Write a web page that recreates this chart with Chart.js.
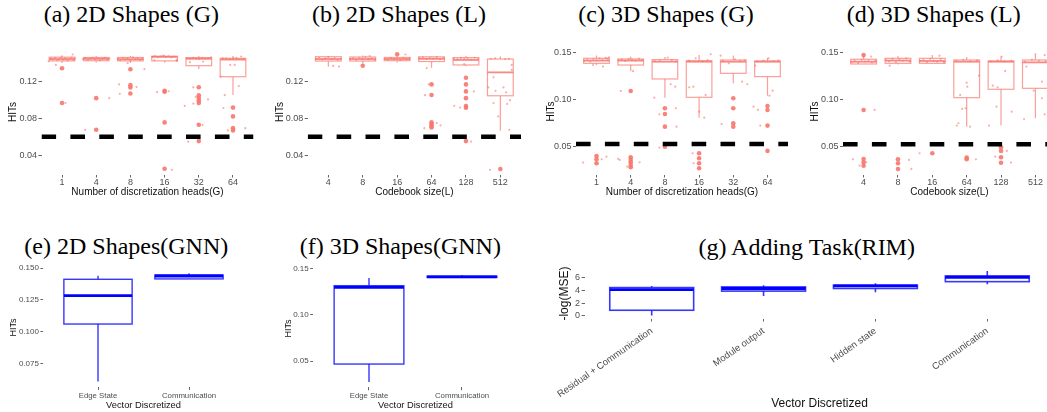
<!DOCTYPE html>
<html>
<head>
<meta charset="utf-8">
<script src="https://cdn.jsdelivr.net/npm/chart.js@4.4.1/dist/chart.umd.min.js"></script>
<style>
html, body { margin: 0; padding: 0; width: 1047px; height: 412px; overflow: hidden; background: #fff; }
canvas { position: absolute; }
.ttl { position: absolute; width: 300px; text-align: center; font: 24px 'Liberation Serif', 'Times New Roman', serif; line-height: 24px; color: #000; white-space: nowrap; }
</style>
</head>
<body>
<div class="ttl" style="left:-18.7px;top:1.6px">(a) 2D Shapes (G)</div>
<div class="ttl" style="left:249px;top:1.6px">(b) 2D Shapes (L)</div>
<div class="ttl" style="left:516px;top:1.6px">(c) 3D Shapes (G)</div>
<div class="ttl" style="left:783.7px;top:1.6px">(d) 3D Shapes (L)</div>
<div class="ttl" style="left:-23.7px;top:233.9px">(e) 2D Shapes(GNN)</div>
<div class="ttl" style="left:250.3px;top:233.9px">(f) 3D Shapes(GNN)</div>
<div class="ttl" style="left:656.7px;top:234.9px">(g) Adding Task(RIM)</div>
<canvas id="pa"></canvas>
<canvas id="pb"></canvas>
<canvas id="pc"></canvas>
<canvas id="pd"></canvas>
<canvas id="pe"></canvas>
<canvas id="pf"></canvas>
<canvas id="pg"></canvas>
<script>
// ---- categories ----
const headsG = ['1', '4', '8', '16', '32', '64'];
const codebookL = ['4', '8', '16', '64', '128', '512'];
const gnnVectors = ['Edge State', 'Communication'];
const rimVectors = ['Residual + Communication', 'Module output', 'Hidden state', 'Communication'];

// ---- y tick values ----
const ticks2D = [0.04, 0.08, 0.12];
const ticks3D = [0.05, 0.10, 0.15];
const ticksE = [0.075, 0.100, 0.125, 0.150];
const ticksF = [0.05, 0.10, 0.15];
const ticksG = [0, 2, 4, 6];

// ---- (a) 2D Shapes (G) ----
const aLo  = [0.1395, 0.1400, 0.1395, 0.1400, 0.1330, 0.1049];
const aQ1  = [0.1418, 0.1420, 0.1418, 0.1418, 0.1366, 0.1247];
const aMed = [0.1438, 0.1440, 0.1436, 0.1462, 0.1441, 0.1432];
const aQ3  = [0.1458, 0.1455, 0.1455, 0.1468, 0.1453, 0.1445];
const aHi  = [0.1478, 0.1470, 0.1470, 0.1480, 0.1470, 0.1470];
const aOut = [[0,0.1338],[0,0.0963],[1,0.1015],[1,0.0673],[2,0.1327],[2,0.1156],[2,0.1131],[2,0.1066],
  [3,0.1095],[3,0.1084],[3,0.0753],[3,0.0252],[4,0.1133],[4,0.1046],[4,0.1017],[4,0.0990],[4,0.0964],
  [4,0.0727],[4,0.0551],[5,0.0913],[5,0.0818],[5,0.0691],[5,0.0666]];
// [category, jitter offset, value]
const aJit = [
  [0,-0.39,0.1413],[0,-0.33,0.1446],[0,-0.27,0.1432],[0,-0.2,0.1452],[0,-0.14,0.1425],[0,-0.08,0.1441],[0,-0.02,0.1456],
  [0,0.04,0.1430],[0,0.1,0.1447],[0,0.16,0.1421],[0,0.22,0.1438],[0,0.28,0.1453],[0,0.34,0.1428],[0,0.38,0.1444],
  [0,0.1,0.0963],[0,-0.18,0.1374],[0,0.31,0.1487],
  [1,-0.38,0.1436],[1,-0.31,0.1448],[1,-0.24,0.1427],[1,-0.17,0.1443],[1,-0.1,0.1452],[1,-0.03,0.1433],[1,0.04,0.1446],
  [1,0.11,0.1424],[1,0.18,0.1440],[1,0.25,0.1450],[1,0.32,0.1431],[1,0.38,0.1444],[1,0.38,0.1015],[1,-0.32,0.0673],
  [2,-0.37,0.1440],[2,-0.3,0.1426],[2,-0.22,0.1451],[2,-0.15,0.1434],[2,-0.08,0.1445],[2,0,0.1422],[2,0.07,0.1457],
  [2,0.14,0.1437],[2,0.21,0.1448],[2,0.28,0.1429],[2,0.35,0.1442],[2,-0.08,0.1393],[2,0.41,0.1328],[2,-0.33,0.1164],
  [2,0.18,0.1135],[2,-0.31,0.1062],
  [3,-0.36,0.1462],[3,-0.28,0.1470],[3,-0.2,0.1458],[3,-0.12,0.1466],[3,-0.04,0.1474],[3,0.04,0.1460],[3,0.12,0.1468],
  [3,0.2,0.1455],[3,0.28,0.1465],[3,0.35,0.1430],[3,-0.3,0.1425],[3,0.36,0.1418],[3,-0.22,0.1080],[3,0.12,0.1090],[3,0.21,0.0241],
  [4,-0.35,0.1448],[4,-0.26,0.1442],[4,-0.17,0.1452],[4,-0.08,0.1445],[4,0.01,0.1439],[4,0.1,0.1450],[4,0.19,0.1443],
  [4,0.28,0.1447],[4,0.36,0.1456],[4,-0.26,0.1404],[4,0.13,0.1411],[4,-0.16,0.1131],[4,-0.09,0.1029],[4,0.27,0.1001],
  [4,-0.41,0.0931],[4,-0.16,0.0957],[4,0.11,0.0724],[4,-0.31,0.0546],
  [5,-0.3,0.1447],[5,-0.2,0.1447],[5,-0.1,0.1440],[5,0,0.1445],[5,0.1,0.1450],[5,0.24,0.1465],[5,0.32,0.1441],
  [5,0.17,0.1146],[5,-0.24,0.1047],[5,-0.28,0.0909],[5,0.36,0.0691],[5,-0.15,0.0666],[5,-0.08,0.1374],[5,0.05,0.1374],[5,-0.36,0.1247]
];
const aBase = 0.0597;

// ---- (b) 2D Shapes (L) ----
const bLo  = [0.1355, 0.1390, 0.1400, 0.1345, 0.1360, 0.0664];
const bQ1  = [0.1416, 0.1416, 0.1420, 0.1411, 0.1374, 0.1041];
const bMed = [0.1438, 0.1438, 0.1438, 0.1440, 0.1428, 0.1294];
const bQ3  = [0.1463, 0.1460, 0.1455, 0.1462, 0.1453, 0.1438];
const bHi  = [0.1470, 0.1475, 0.1470, 0.1470, 0.1470, 0.1465];
const bOut = [[1,0.1366],[2,0.1489],[3,0.1164],[3,0.1049],[3,0.0753],[3,0.0735],[3,0.0717],[3,0.0699],
  [4,0.1236],[4,0.1164],[4,0.1088],[4,0.1015],[4,0.0930],[4,0.0912],[4,0.0551],[5,0.0249]];
const bJit = [
  [0,-0.36,0.1440],[0,-0.27,0.1452],[0,-0.18,0.1432],[0,-0.09,0.1446],[0,0,0.1458],[0,0.09,0.1436],[0,0.18,0.1449],
  [0,0.27,0.1428],[0,0.36,0.1443],[0,0.14,0.1364],[0,0.31,0.1357],
  [1,-0.37,0.1437],[1,-0.28,0.1449],[1,-0.19,0.1428],[1,-0.1,0.1452],[1,-0.01,0.1440],[1,0.08,0.1462],[1,0.17,0.1434],
  [1,0.26,0.1446],[1,0.35,0.1430],[1,0.2,0.1470],
  [2,-0.36,0.1441],[2,-0.27,0.1434],[2,-0.18,0.1448],[2,-0.09,0.1437],[2,0,0.1444],[2,0.09,0.1430],[2,0.18,0.1450],
  [2,0.27,0.1439],[2,0.36,0.1445],[2,0.24,0.1487],
  [3,-0.35,0.1447],[3,-0.25,0.1455],[3,-0.15,0.1440],[3,-0.05,0.1452],[3,0.05,0.1444],[3,0.15,0.1458],[3,0.25,0.1436],
  [3,0.35,0.1449],[3,-0.14,0.1340],[3,-0.08,0.1164],[3,-0.19,0.1047],[3,-0.21,0.0691],[3,0.15,0.0745],[3,0.26,0.0720],
  [4,-0.35,0.1445],[4,-0.25,0.1437],[4,-0.15,0.1450],[4,-0.05,0.1440],[4,0.05,0.1447],[4,0.15,0.1433],[4,0.25,0.1452],
  [4,0.35,0.1441],[4,-0.05,0.1382],[4,0.23,0.1088],[4,-0.34,0.0932],[4,-0.17,0.0913],[4,0.15,0.0546],
  [5,-0.28,0.1440],[5,-0.15,0.1445],[5,0.14,0.1438],[5,0.25,0.1441],[5,-0.2,0.1240],[5,-0.35,0.1131],[5,-0.14,0.1094],
  [5,0.09,0.1131],[5,0.17,0.1077],[5,0.33,0.1320],[5,0.33,0.1374],[5,0.28,0.0993],[5,0.2,0.0953],[5,-0.2,0.0963],
  [5,-0.06,0.0818],[5,0.26,0.0673],[5,-0.3,0.0241]
];
const bBase = 0.0597;

// ---- (c) 3D Shapes (G) ----
const cLo  = [0.1363, 0.1300, 0.1019, 0.0807, 0.1171, 0.1040];
const cQ1  = [0.1383, 0.1365, 0.1217, 0.1023, 0.1277, 0.1242];
const cMed = [0.1412, 0.1412, 0.1400, 0.1400, 0.1400, 0.1400];
const cQ3  = [0.1436, 0.1429, 0.1422, 0.1411, 0.1418, 0.1408];
const cHi  = [0.1465, 0.1455, 0.1450, 0.1470, 0.1465, 0.1440];
const cOut = [[0,0.0401],[0,0.0367],[0,0.0324],[1,0.1090],[1,0.0388],[1,0.0359],[1,0.0335],[1,0.0306],[1,0.0282],
  [2,0.0907],[2,0.0846],[2,0.0712],[2,0.0500],[3,0.0430],[3,0.0377],[3,0.0324],[3,0.0271],
  [4,0.1013],[4,0.0907],[4,0.0748],[4,0.0712],[5,0.0931],[5,0.0889],[5,0.0723],[5,0.0455]];
const cJit = [
  [0,-0.36,0.1410],[0,-0.27,0.1420],[0,-0.18,0.1402],[0,-0.09,0.1428],[0,0,0.1415],[0,0.09,0.1435],[0,0.18,0.1418],
  [0,0.27,0.1441],[0,0.36,0.1445],[0,0.32,0.1430],[0,-0.1,0.1365],[0,0.19,0.1348],[0,-0.39,0.0331],[0,0.29,0.0394],[0,0.15,0.0366],
  [1,-0.36,0.1415],[1,-0.26,0.1425],[1,-0.16,0.1408],[1,-0.06,0.1430],[1,0.04,0.1420],[1,0.14,0.1412],[1,0.24,0.1432],
  [1,0.34,0.1418],[1,0.07,0.1300],[1,-0.29,0.1090],[1,-0.37,0.0371],[1,-0.32,0.0359],[1,0.26,0.0335],[1,-0.1,0.0289],
  [2,-0.3,0.1408],[2,-0.15,0.1412],[2,0.08,0.1443],[2,0.2,0.1418],[2,0.32,0.1405],[2,0.17,0.1161],[2,0.3,0.1136],
  [2,-0.31,0.1019],[2,-0.16,0.0843],[2,0.32,0.0907],[2,0.34,0.0712],[2,-0.16,0.0490],
  [3,-0.3,0.1412],[3,-0.1,0.1436],[3,0.1,0.1405],[3,0.25,0.1416],[3,0.34,0.1479],[3,-0.29,0.1129],[3,-0.17,0.1136],
  [3,0.19,0.1048],[3,0.15,0.0807],[3,0,0.0871],[3,-0.19,0.0430],[3,-0.16,0.0324],
  [4,-0.3,0.1412],[4,-0.13,0.1383],[4,0.05,0.1425],[4,0.2,0.1408],[4,0.33,0.1418],[4,-0.37,0.1464],[4,0.26,0.1189],
  [4,0.41,0.1161],[4,-0.34,0.0740],
  [5,-0.3,0.1402],[5,-0.12,0.1412],[5,0.03,0.1436],[5,0.18,0.1405],[5,0.32,0.1415],[5,-0.36,0.1358],[5,0.15,0.1093],
  [5,-0.41,0.0924],[5,-0.28,0.0889],[5,-0.21,0.0723],[5,0.06,0.1040]
];
const cBase = 0.0529;

// ---- (d) 3D Shapes (L) ----
const dLo  = [0.1376, 0.1370, 0.1383, 0.0712, 0.0723, 0.0800];
const dQ1  = [0.1376, 0.1383, 0.1383, 0.1019, 0.1108, 0.1118];
const dMed = [0.1400, 0.1412, 0.1408, 0.1400, 0.1400, 0.1393];
const dQ3  = [0.1426, 0.1436, 0.1436, 0.1418, 0.1408, 0.1418];
const dHi  = [0.1470, 0.1460, 0.1470, 0.1450, 0.1455, 0.1470];
const dOut = [[0,0.1470],[0,0.0889],[0,0.0370],[0,0.0335],[0,0.0299],[1,0.0367],[1,0.0324],[1,0.0264],[2,0.0430],
  [3,0.0384],[3,0.0367],[4,0.0494],[4,0.0455],[4,0.0388],[4,0.0330]];
const dJit = [
  [0,-0.36,0.1395],[0,-0.26,0.1410],[0,-0.16,0.1388],[0,-0.06,0.1420],[0,0.04,0.1402],[0,0.14,0.1415],[0,0.24,0.1392],
  [0,0.34,0.1408],[0,0.22,0.1454],[0,0.32,0.0889],[0,-0.31,0.0366],[0,-0.12,0.0299],[0,0.08,0.0335],
  [1,-0.36,0.1420],[1,-0.26,0.1405],[1,-0.16,0.1430],[1,-0.06,0.1395],[1,0.04,0.1425],[1,0.14,0.1410],[1,0.24,0.1435],
  [1,0.34,0.1400],[1,-0.24,0.1358],[1,0.32,0.0359],[1,0.39,0.0264],
  [2,-0.36,0.1405],[2,-0.26,0.1420],[2,-0.16,0.1395],[2,-0.06,0.1430],[2,0.04,0.1412],[2,0.14,0.1400],[2,0.24,0.1428],
  [2,0.34,0.1392],[2,0.21,0.1464],[2,-0.37,0.0430],
  [3,-0.3,0.1410],[3,-0.1,0.1420],[3,0.1,0.1405],[3,0.3,0.1415],[3,0,0.1178],[3,0.02,0.1136],[3,-0.19,0.1048],
  [3,-0.13,0.0900],[3,-0.03,0.0907],[3,-0.29,0.0723],[3,-0.24,0.0748],[3,0.1,0.0712],[3,0.27,0.0366],[3,0.36,0.1252],
  [4,-0.3,0.1405],[4,-0.1,0.1415],[4,0.1,0.1402],[4,0.3,0.1410],[4,0.02,0.1455],[4,0.12,0.1302],[4,-0.24,0.1146],
  [4,-0.1,0.1129],[4,-0.13,0.0924],[4,0.31,0.0871],[4,-0.35,0.0723],[4,-0.17,0.0394],[4,0.17,0.0455],[4,0.29,0.0331],
  [5,-0.3,0.1400],[5,-0.1,0.1420],[5,0.1,0.1410],[5,0.3,0.1405],[5,-0.26,0.1348],[5,0.19,0.1189],[5,-0.05,0.1093],
  [5,0.19,0.1013],[5,-0.33,0.0793],[5,0.27,0.0843],[5,0,0.1479],[5,0.27,0.1470]
];
const dBase = 0.0526;

// ---- (e) 2D Shapes(GNN) ----
const eLo  = [0.0606, 0.1416];
const eQ1  = [0.1060, 0.1416];
const eMed = [0.1284, 0.1439];
const eQ3  = [0.1413, 0.1447];
const eHi  = [0.1442, 0.1460];

// ---- (f) 3D Shapes(GNN) ----
const fLo  = [0.0274, 0.1400];
const fQ1  = [0.0468, 0.1407];
const fMed = [0.1298, 0.1413];
const fQ3  = [0.1317, 0.1420];
const fHi  = [0.1400, 0.1430];

// ---- (g) Adding Task(RIM) ----
const gLo  = [0.05, 3.10, 3.67, 4.91];
const gQ1  = [0.88, 3.85, 4.26, 5.32];
const gMed = [4.08, 4.26, 4.65, 6.00];
const gQ3  = [4.40, 4.50, 4.77, 6.20];
const gHi  = [4.65, 4.77, 5.07, 6.98];

Chart.defaults.font.family = "'Liberation Sans', Arial, sans-serif";

const SALMON = 'rgba(248,118,109,';

// box-and-whisker drawn through the chart's own scales
const boxPlugin = {
  id: 'boxes',
  beforeDatasetsDraw(chart, args, o) {
    const { ctx, scales: { x, y } } = chart;
    const hw = x.getPixelForValue(1.375) - x.getPixelForValue(1);
    ctx.save();
    o.lo.forEach((lo, i) => {
      const cx = x.getPixelForValue(i + 1);
      const yl = y.getPixelForValue(lo);
      const y1 = y.getPixelForValue(o.q1[i]);
      const ym = y.getPixelForValue(o.med[i]);
      const y3 = y.getPixelForValue(o.q3[i]);
      const yh = y.getPixelForValue(o.hi[i]);
      ctx.strokeStyle = o.color;
      ctx.lineWidth = o.lineWidth;
      ctx.beginPath();
      ctx.moveTo(cx, y3); ctx.lineTo(cx, yh);
      ctx.moveTo(cx, y1); ctx.lineTo(cx, yl);
      ctx.stroke();
      ctx.fillStyle = '#fff';
      ctx.fillRect(cx - hw, y3, 2 * hw, y1 - y3);
      ctx.strokeRect(cx - hw, y3, 2 * hw, y1 - y3);
      ctx.strokeStyle = o.medColor;
      ctx.lineWidth = o.medWidth;
      ctx.beginPath();
      ctx.moveTo(cx - hw, ym); ctx.lineTo(cx + hw, ym);
      ctx.stroke();
    });
    ctx.restore();
  }
};

function panel(id, p) {
  const cv = document.getElementById(id);
  const [L, T, W, H] = p.box;
  const [al, at, ar, ab] = p.area;
  cv.width = W; cv.height = H;
  cv.style.left = L + 'px'; cv.style.top = T + 'px';
  const n = p.labels.length;
  const datasets = [];
  if (p.base != null) {
    datasets.push({
      type: 'line', data: [{ x: 0.4, y: p.base }, { x: n + 0.6, y: p.base }],
      borderColor: '#000', borderWidth: 4.5, borderDash: [14.6, 14.3], pointRadius: 0, order: 0
    });
  }
  if (p.jitter) {
    datasets.push({
      data: p.jitter.map(([c, dx, v]) => ({ x: c + 1 + dx, y: v })),
      pointRadius: 1.1, backgroundColor: SALMON + '0.6)', borderWidth: 0, order: 1
    });
  }
  if (p.outliers) {
    datasets.push({
      data: p.outliers.map(([c, v]) => ({ x: c + 1, y: v })),
      pointRadius: 2.3, backgroundColor: SALMON + '0.9)', borderWidth: 0, order: 2
    });
  }
  new Chart(cv, {
    type: 'scatter',
    data: { datasets },
    options: {
      responsive: false,
      animation: false,
      events: [],
      layout: { padding: { left: 0, top: at - T, right: L + W - ar, bottom: 0 } },
      plugins: {
        legend: { display: false },
        tooltip: { enabled: false },
        boxes: p.boxes
      },
      scales: {
        x: {
          type: 'linear', min: 0.4, max: n + 0.6,
          afterBuildTicks: s => { s.ticks = p.labels.map((_, i) => ({ value: i + 1 })); },
          afterFit: s => { s.height = T + H - ab; s.paddingLeft = 0; s.paddingRight = 0; },
          ticks: {
            callback: v => p.labels[v - 1], autoSkip: false, color: '#4d4d4d',
            font: { size: p.xFont }, padding: p.xPad,
            minRotation: p.rot || 0, maxRotation: p.rot || 0
          },
          grid: { drawOnChartArea: false, tickLength: 3, color: '#666' },
          border: { display: false },
          title: {
            display: true, text: p.xTitle, color: '#111',
            font: { size: p.xTitleFont }, padding: { top: 0, bottom: p.xTitlePad }
          }
        },
        y: {
          type: 'linear', min: p.yMin, max: p.yMax,
          afterBuildTicks: s => { s.ticks = p.yTicks.map(v => ({ value: v })); },
          afterFit: s => { s.width = al - L; s.paddingTop = 0; s.paddingBottom = 0; },
          ticks: {
            callback: v => v.toFixed(p.dec), color: '#4d4d4d',
            font: { size: p.yFont }, padding: 1.5
          },
          grid: { drawOnChartArea: false, tickLength: 3, color: '#666' },
          border: { display: false },
          title: {
            display: true, text: p.yTitle, color: '#111',
            font: { size: p.yTitleFont }, padding: { top: p.yTitlePad, bottom: 0 }
          }
        }
      }
    },
    plugins: [boxPlugin]
  });
}

const redBox = (lo, q1, med, q3, hi) => ({
  lo, q1, med, q3, hi, color: SALMON + '0.7)', lineWidth: 1.2, medColor: SALMON + '0.85)', medWidth: 1.8
});
const blueBox = (lo, q1, med, q3, hi, w) => ({
  lo, q1, med, q3, hi, color: 'rgba(20,20,255,0.85)', lineWidth: w, medColor: '#0000ff', medWidth: 2.8
});

const topRow = { xFont: 9, xPad: 0, xTitleFont: 10, xTitlePad: 1.3, yFont: 9, yTitle: 'HITs', yTitleFont: 10 };

panel('pa', Object.assign({}, topRow, {
  box: [0, 40, 262, 160], area: [41.5, 49.6, 253.5, 174.5],
  labels: headsG, xTitle: 'Number of discretization heads(G)',
  yMin: 0.019, yMax: 0.154, yTicks: ticks2D, dec: 2, yTitlePad: 7.3,
  boxes: redBox(aLo, aQ1, aMed, aQ3, aHi), outliers: aOut, jitter: aJit, base: aBase
}));
panel('pb', Object.assign({}, topRow, {
  box: [262, 40, 268, 160], area: [307.7, 49.6, 521, 174.5],
  labels: codebookL, xTitle: 'Codebook size(L)',
  yMin: 0.019, yMax: 0.154, yTicks: ticks2D, dec: 2, yTitlePad: 12,
  boxes: redBox(bLo, bQ1, bMed, bQ3, bHi), outliers: bOut, jitter: bJit, base: bBase
}));
panel('pc', Object.assign({}, topRow, {
  box: [530, 40, 262, 160], area: [576, 48.5, 789.6, 174.5],
  labels: headsG, xTitle: 'Number of discretization heads(G)',
  yMin: 0.0205, yMax: 0.154, yTicks: ticks3D, dec: 2, yTitlePad: 15,
  boxes: redBox(cLo, cQ1, cMed, cQ3, cHi), outliers: cOut, jitter: cJit, base: cBase
}));
panel('pd', Object.assign({}, topRow, {
  box: [792, 40, 270, 160], area: [843, 48.5, 1056, 174.5],
  labels: codebookL, xTitle: 'Codebook size(L)',
  yMin: 0.0205, yMax: 0.154, yTicks: ticks3D, dec: 2, yTitlePad: 17.5,
  boxes: redBox(dLo, dQ1, dMed, dQ3, dHi), outliers: dOut, jitter: dJit, base: dBase
}));
panel('pe', {
  box: [0, 262, 255, 150], area: [43.4, 267.9, 243.6, 387],
  labels: gnnVectors, xTitle: 'Vector Discretized', xFont: 7.8, xPad: 1, xTitleFont: 9.3, xTitlePad: 0.7,
  yMin: 0.0563, yMax: 0.1503, yTicks: ticksE, dec: 3, yFont: 8, yTitle: 'HITs', yTitleFont: 9, yTitlePad: 8.3,
  boxes: blueBox(eLo, eQ1, eMed, eQ3, eHi, 1.4)
});
panel('pf', {
  box: [262, 262, 270, 150], area: [313.2, 269.9, 517.8, 387.3],
  labels: gnnVectors, xTitle: 'Vector Discretized', xFont: 7.8, xPad: 1, xTitleFont: 9.3, xTitlePad: 0.7,
  yMin: 0.0216, yMax: 0.1488, yTicks: ticksF, dec: 2, yFont: 8, yTitle: 'HITs', yTitleFont: 9, yTitlePad: 20.9,
  boxes: blueBox(fLo, fQ1, fMed, fQ3, fHi, 1.4)
});
panel('pg', {
  box: [540, 262, 520, 150], area: [584.6, 268.7, 1054.4, 318.5],
  labels: rimVectors, xTitle: 'Vector Discretized', xFont: 9.5, xPad: 4, rot: 35, xTitleFont: 12, xTitlePad: 1.5,
  yMin: -0.4, yMax: 7.33, yTicks: ticksG, dec: 0, yFont: 9, yTitle: '-log(MSE)', yTitleFont: 12, yTitlePad: 17.8,
  boxes: blueBox(gLo, gQ1, gMed, gQ3, gHi, 1.6)
});
</script>
</body>
</html>
